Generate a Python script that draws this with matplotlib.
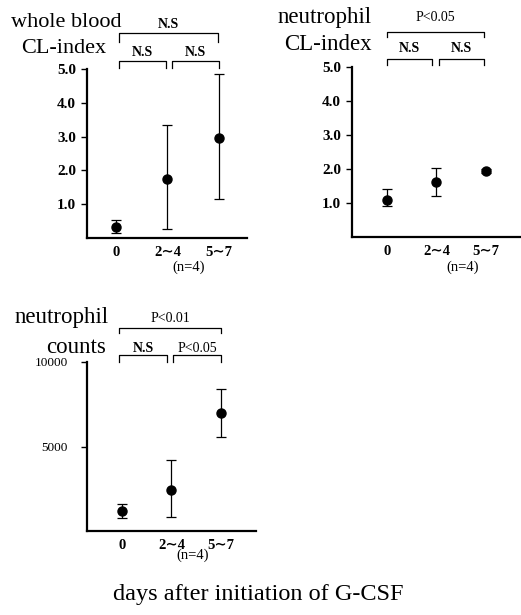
import matplotlib
matplotlib.use("Agg")
import matplotlib.pyplot as plt
from matplotlib.transforms import blended_transform_factory

plt.rcParams['font.family'] = ['Liberation Serif', 'DejaVu Serif']

# ---- data ----
categories = ["0", "2\u223c4", "5\u223c7"]

wb_mean = [0.32, 1.74, 2.97]
wb_low = [0.14, 0.26, 1.15]
wb_high = [0.52, 3.35, 4.85]

nc_mean = [1.10, 1.63, 1.93]
nc_low = [0.90, 1.22, 1.87]
nc_high = [1.40, 2.02, 2.00]

cnt_mean = [1180, 2410, 7000]
cnt_low = [770, 820, 5590]
cnt_high = [1590, 4180, 8410]

cl_ticks = [1.0, 2.0, 3.0, 4.0, 5.0]
cl_ticklabels = ["1.0", "2.0", "3.0", "4.0", "5.0"]
cnt_ticks = [5000, 10000]
cnt_ticklabels = ["5000", "10000"]

wb_sig = ["N.S", "N.S", "N.S"]          # overall, left pair, right pair
nc_sig = ["P<0.05", "N.S", "N.S"]
cnt_sig = ["P<0.01", "N.S", "P<0.05"]

W, H = 521, 615
DPI = 100
fig = plt.figure(figsize=(W / DPI, H / DPI), dpi=DPI)


def px_rect(x0, x1, ytop, ybot):
    return [x0 / W, (H - ybot) / H, (x1 - x0) / W, (ybot - ytop) / H]


def fig_text(x, y, s, **kw):
    fig.text(x / W, (H - y) / H, s, **kw)


def panel(rect, xlim, ylim, mean, low, high, yt, ytl, ytick_size, ytick_weight, ypad):
    ax = fig.add_axes(rect)
    xs = list(range(len(categories)))
    yerr = [[m - l for m, l in zip(mean, low)], [h - m for m, h in zip(mean, high)]]
    ax.errorbar(xs, mean, yerr=yerr, fmt='o', color='black', ms=6.5,
                elinewidth=0.9, capsize=3.5, capthick=0.9, clip_on=False, zorder=3)
    ax.set_xlim(*xlim)
    ax.set_ylim(*ylim)
    ax.set_xticks(xs)
    ax.set_xticklabels(categories, fontsize=10.5, fontweight='bold')
    ax.tick_params(axis='x', length=0, pad=6)
    ax.set_yticks(yt)
    ax.set_yticklabels(ytl, fontsize=ytick_size, fontweight=ytick_weight)
    ax.tick_params(axis='y', direction='out', length=4, width=1, pad=ypad)
    for s in ('top', 'right'):
        ax.spines[s].set_visible(False)
    for s in ('left', 'bottom'):
        ax.spines[s].set_linewidth(1.6)
    ax.patch.set_alpha(0)
    return ax


def draw_bracket(ax, x0, x1, bar_px, tip_px, label, text_px):
    # bracket heights are given in pixels above the top of the axes
    tr = blended_transform_factory(ax.transData, ax.transAxes)
    ah = ax.get_position().height * H
    yb = 1 + bar_px / ah
    yt = 1 + tip_px / ah
    ax.plot([x0, x0, x1, x1], [yt, yb, yb, yt], color='black', lw=0.9,
            transform=tr, clip_on=False)
    weight = 'bold' if label == 'N.S' else 'normal'
    ax.text((x0 + x1) / 2, 1 + text_px / ah, label, transform=tr, ha='center',
            va='baseline', fontsize=10, fontweight=weight)


# ---- whole blood CL-index ----
ax1 = panel(px_rect(87, 247, 69, 238), (-0.563, 2.544), (0, 5.0),
            wb_mean, wb_low, wb_high, cl_ticks, cl_ticklabels, 11, 'bold', 4)
draw_bracket(ax1, 0.05, 1.98, 36, 27, wb_sig[0], 41)
draw_bracket(ax1, 0.05, 0.97, 8, 1, wb_sig[1], 13)
draw_bracket(ax1, 1.09, 2.0, 8, 1, wb_sig[2], 13)
fig_text(66, 27, "whole blood", fontsize=16, ha='center', va='baseline')
fig_text(64, 53, "CL-index", fontsize=16, ha='center', va='baseline')
fig_text(189, 271, "(n=4)", fontsize=10.5, ha='center', va='baseline')

# ---- neutrophil CL-index ----
ax2 = panel(px_rect(352, 520, 67, 237), (-0.707, 2.69), (0, 5.0),
            nc_mean, nc_low, nc_high, cl_ticks, cl_ticklabels, 11, 'bold', 4)
draw_bracket(ax2, 0.0, 1.96, 35, 30, nc_sig[0], 46)
draw_bracket(ax2, 0.0, 0.91, 8, 2, nc_sig[1], 15)
draw_bracket(ax2, 1.05, 1.96, 8, 2, nc_sig[2], 15)
fig_text(372, 23, "neutrophil", fontsize=16.5, ha='right', va='baseline')
fig_text(372, 50, "CL-index", fontsize=16.5, ha='right', va='baseline')
fig_text(463, 271, "(n=4)", fontsize=10.5, ha='center', va='baseline')

# ---- neutrophil counts ----
ax3 = panel(px_rect(87, 256, 362, 531), (-0.707, 2.71), (0, 10000),
            cnt_mean, cnt_low, cnt_high, cnt_ticks, cnt_ticklabels, 9.5, 'normal', 10)
draw_bracket(ax3, -0.06, 2.0, 34, 29, cnt_sig[0], 40)
draw_bracket(ax3, -0.06, 0.91, 7, 0, cnt_sig[1], 10)
draw_bracket(ax3, 1.03, 2.0, 7, 0, cnt_sig[2], 10)
fig_text(62, 323, "neutrophil", fontsize=16.5, ha='center', va='baseline')
fig_text(76, 353, "counts", fontsize=16.5, ha='center', va='baseline')
fig_text(193, 559, "(n=4)", fontsize=10.5, ha='center', va='baseline')

fig_text(258, 600, "days after initiation of G-CSF", fontsize=17.5,
         ha='center', va='baseline')

fig.savefig("out.png", dpi=DPI)
